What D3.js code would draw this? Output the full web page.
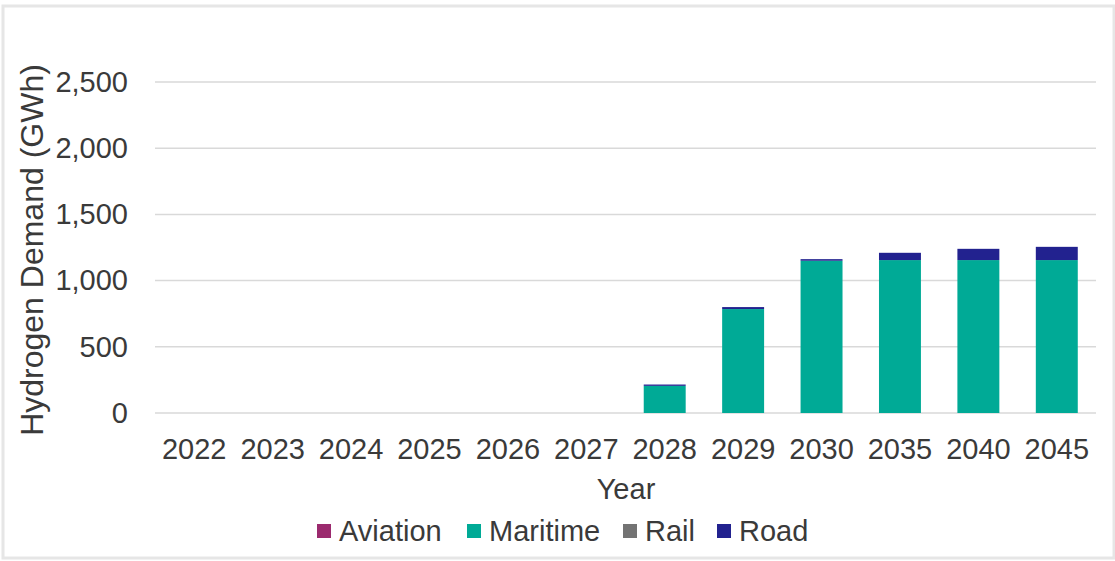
<!DOCTYPE html>
<html>
<head>
<meta charset="utf-8">
<script src="https://cdn.jsdelivr.net/npm/d3@7"></script>
<style>
  html, body { margin: 0; padding: 0; background: #ffffff; }
  svg { display: block; }
  text { font-family: "Liberation Sans", Arial, sans-serif; fill: #3a3a3a; }
</style>
</head>
<body>
<svg id="chart" width="1115" height="561"></svg>
<script>
const categories = ["2022","2023","2024","2025","2026","2027","2028","2029","2030","2035","2040","2045"];
const seriesNames = ["Aviation","Maritime","Rail","Road"];
const aviation = [0,0,0,0,0,0,0,0,0,0,0,0];
const maritime = [0,0,0,0,0,0,205,785,1150,1155,1155,1155];
const rail     = [0,0,0,0,0,0,0,0,0,0,0,0];
const road     = [0,0,0,0,0,0,10,15,12,55,85,100];
const yTicks = [0,500,1000,1500,2000,2500];
const colors = ["#9b2a6e","#00aa96","#737373","#22228f"];

const svg = d3.select("#chart");
const W = 1115, H = 561;

// outer frame
svg.append("rect").attr("x",3).attr("y",6).attr("width",W-4).attr("height",H-9)
  .attr("fill","#fff").attr("stroke","#e6e6e6").attr("stroke-width",3);

const m = {left:155, right:1096, top:82, bottom:413};
const x = d3.scaleBand().domain(categories).range([m.left,m.right]).paddingInner(0.465).paddingOuter(0.2325);
const y = d3.scaleLinear().domain([0,2500]).range([m.bottom,m.top]);

// gridlines
svg.append("g").selectAll("line").data(yTicks).join("line")
  .attr("x1",m.left).attr("x2",m.right)
  .attr("y1",d=>y(d)).attr("y2",d=>y(d))
  .attr("stroke","#d9d9d9").attr("stroke-width",1.5);

// stacked data
const table = categories.map((c,i)=>({year:c, Aviation:aviation[i], Maritime:maritime[i], Rail:rail[i], Road:road[i]}));
const stack = d3.stack().keys(seriesNames)(table);

svg.append("g").selectAll("g").data(stack).join("g")
  .attr("fill",(d,i)=>colors[i])
  .selectAll("rect").data(d=>d).join("rect")
  .attr("x",d=>x(d.data.year))
  .attr("width",x.bandwidth())
  .attr("y",d=>y(d[1]))
  .attr("height",d=>Math.max(0,y(d[0])-y(d[1])));

const fs = 29;
// y axis
const yAxis = d3.axisLeft(y).tickValues(yTicks).tickFormat(d3.format(",")).tickSize(0).tickPadding(27);
const gy = svg.append("g").attr("transform",`translate(${m.left},0)`).call(yAxis);
gy.select(".domain").remove();
gy.selectAll("text").attr("font-size",fs).attr("fill","#3a3a3a")
  .style("font-family","'Liberation Sans', Arial, sans-serif");

// x axis
const xAxis = d3.axisBottom(x).tickSize(0).tickPadding(25);
const gx = svg.append("g").attr("transform",`translate(0,${m.bottom})`).call(xAxis);
gx.select(".domain").remove();
gx.selectAll("text").attr("font-size",fs).attr("fill","#3a3a3a")
  .style("font-family","'Liberation Sans', Arial, sans-serif");

// axis titles
svg.append("text").attr("x",626).attr("y",499).attr("text-anchor","middle")
  .attr("font-size",fs).text("Year");
svg.append("text").attr("transform","translate(43,250) rotate(-90)")
  .attr("text-anchor","middle").attr("font-size",32).text("Hydrogen Demand (GWh)");

// legend
const legX = [317, 467, 623, 717];
const lg = svg.append("g").selectAll("g").data(seriesNames).join("g")
  .attr("transform",(d,i)=>`translate(${legX[i]},0)`);
lg.append("rect").attr("x",0).attr("y",524).attr("width",14).attr("height",14)
  .attr("fill",(d,i)=>colors[i]);
lg.append("text").attr("x",22).attr("y",541).attr("font-size",fs).text(d=>d);
</script>
</body>
</html>
